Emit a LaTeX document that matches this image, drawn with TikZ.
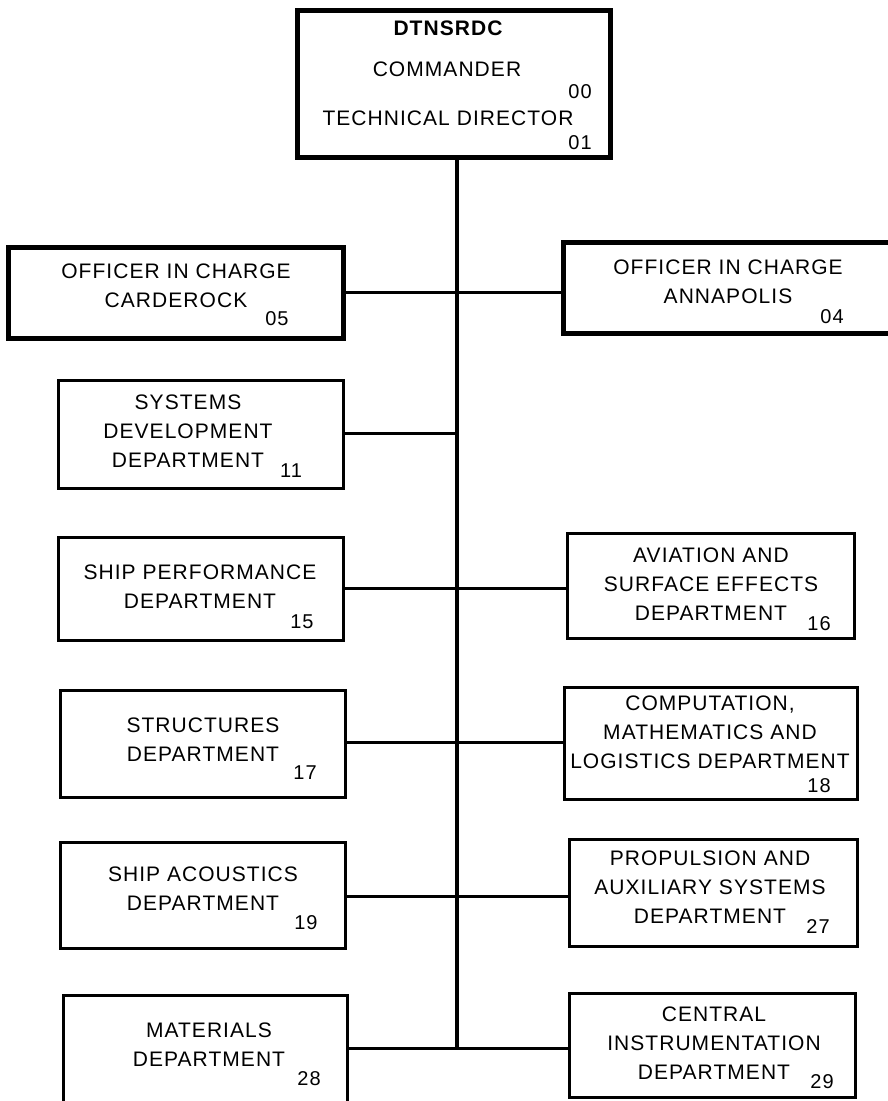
\documentclass[tikz,border=0pt]{standalone}
\usepackage{fontspec}
\setmainfont{Liberation Sans}[LetterSpace=5]
\begin{document}
\begin{tikzpicture}[x=1pt,y=-1pt,
  box/.style 2 args={draw=black, line width=3pt, minimum width=#1, minimum height=#2, inner sep=0pt, outer sep=0pt},
  heavybox/.style 2 args={box={#1}{#2}, line width=5pt},
  txt/.style={align=center, inner sep=0pt, font=\fontsize{21}{29}\selectfont},
  num/.style={inner sep=0pt, font=\fontsize{20}{24}\selectfont},
  conn/.style={draw=black, line width=3pt},
  trunk/.style={draw=black, line width=3.5pt}]
\useasboundingbox (0,0) rectangle (888,1101);
\fill[white] (0,0) rectangle (888,1101);

% boxes
\node[heavybox={313pt}{147pt}] (top) at (453.5,83.5) {};
\node[heavybox={335pt}{91pt}] (carderock) at (175.5,292.5) {};
\node[heavybox={330pt}{91pt}] (annapolis) at (728,287.5) {};
\node[box={285pt}{108pt}] (sysdev) at (200.5,434) {};
\node[box={285pt}{103pt}] (shipperf) at (200.5,588.5) {};
\node[box={287pt}{105pt}] (aviation) at (710.5,585.5) {};
\node[box={285pt}{107pt}] (structures) at (202.5,743.5) {};
\node[box={293pt}{112pt}] (computation) at (710.5,743) {};
\node[box={285pt}{106pt}] (acoustics) at (202.5,895) {};
\node[box={288pt}{107pt}] (propulsion) at (713,892.5) {};
\node[box={284pt}{109pt}] (materials) at (205,1049.5) {};
\node[box={286pt}{104pt}] (central) at (712,1045) {};

% texts in top box
\node[txt, font=\fontsize{21}{29}\selectfont\bfseries] (top-a) at (448,28) {DTNSRDC};
\node[txt] (top-b) at (447,69) {COMMANDER};
\node[num] (top-n0) at (580,92) {00};
\node[txt] (top-c) at (448,118) {TECHNICAL DIRECTOR};
\node[num] (top-n1) at (580,143) {01};

% texts in other boxes
\node[txt] (carderock-t) at (176,285.5) {OFFICER IN CHARGE\\CARDEROCK};
\node[num] (carderock-n) at (277,319) {05};
\node[txt] (annapolis-t) at (728,282) {OFFICER IN CHARGE\\ANNAPOLIS};
\node[num] (annapolis-n) at (832,317) {04};
\node[txt] (sysdev-t) at (188,431) {SYSTEMS\\DEVELOPMENT\\DEPARTMENT};
\node[num] (sysdev-n) at (291,471) {11};
\node[txt] (shipperf-t) at (200,586.5) {SHIP PERFORMANCE\\DEPARTMENT};
\node[num] (shipperf-n) at (302,622) {15};
\node[txt] (aviation-t) at (711,584) {AVIATION AND\\SURFACE EFFECTS\\DEPARTMENT};
\node[num] (aviation-n) at (819,624) {16};
\node[txt] (structures-t) at (203,739.5) {STRUCTURES\\DEPARTMENT};
\node[num] (structures-n) at (305,773) {17};
\node[txt] (computation-t) at (710,732.5) {COMPUTATION,\\MATHEMATICS AND\\LOGISTICS DEPARTMENT};
\node[num] (computation-n) at (819,786) {18};
\node[txt] (acoustics-t) at (203,889) {SHIP ACOUSTICS\\DEPARTMENT};
\node[num] (acoustics-n) at (306,923) {19};
\node[txt] (propulsion-t) at (710,887.5) {PROPULSION AND\\AUXILIARY SYSTEMS\\DEPARTMENT};
\node[num] (propulsion-n) at (818,927) {27};
\node[txt] (materials-t) at (209,1044.5) {MATERIALS\\DEPARTMENT};
\node[num] (materials-n) at (309,1079) {28};
\node[txt] (central-t) at (714,1043) {CENTRAL\\INSTRUMENTATION\\DEPARTMENT};
\node[num] (central-n) at (822,1082) {29};

% junctions on the trunk
\coordinate (j1) at (457,292);
\coordinate (j2) at (457,433);
\coordinate (j3) at (457,588);
\coordinate (j4) at (457,742);
\coordinate (j5) at (457,896);
\coordinate (j6) at (457,1048);

% trunk and connectors
\draw[trunk] (top.south -| j1) -- (j6);
\draw[conn] (j1 -| carderock.east) -- (j1 -| annapolis.west);
\draw[conn] (j2 -| sysdev.east) -- (j2);
\draw[conn] (j3 -| shipperf.east) -- (j3 -| aviation.west);
\draw[conn] (j4 -| structures.east) -- (j4 -| computation.west);
\draw[conn] (j5 -| acoustics.east) -- (j5 -| propulsion.west);
\draw[conn] (j6 -| materials.east) -- (j6 -| central.west);
\end{tikzpicture}
\end{document}
